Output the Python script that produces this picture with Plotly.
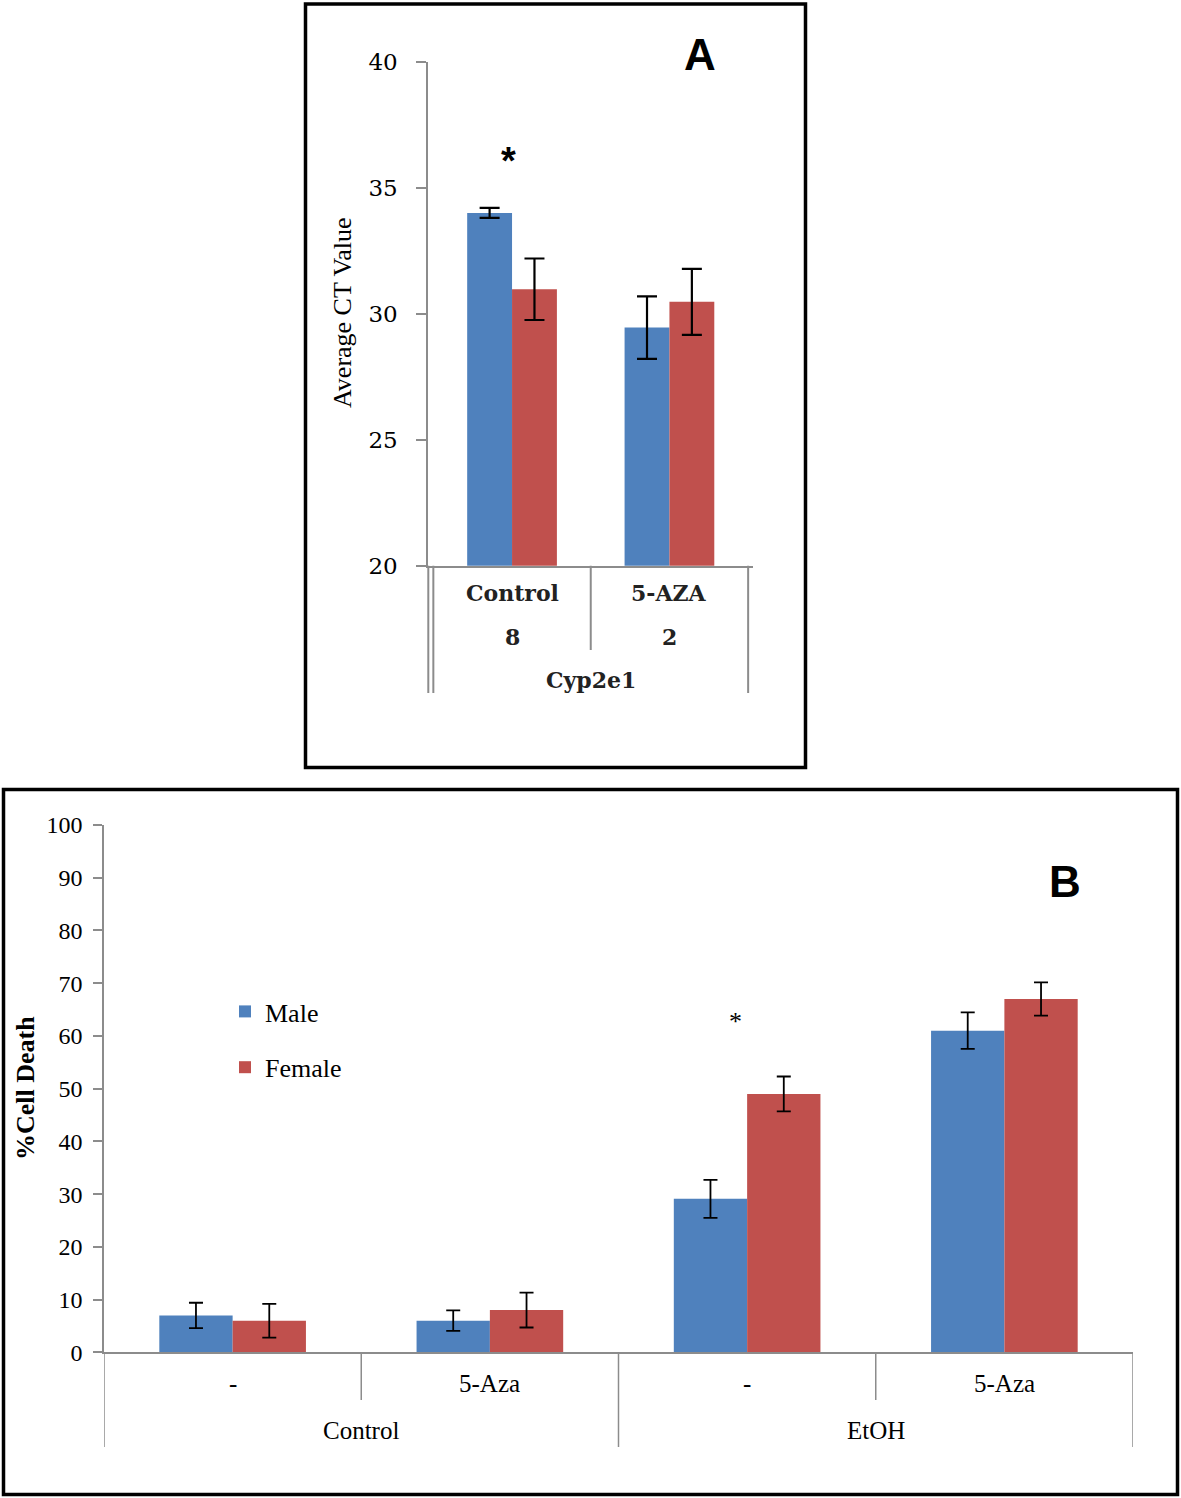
import plotly.graph_objects as go

# ---------------- data ----------------
A_categories = ["Control", "5-AZA"]
A_sublabels = ["8", "2"]
A_gene = "Cyp2e1"
A_male = [34.0, 29.45]
A_male_err = [0.2, 1.24]
A_female = [30.97, 30.47]
A_female_err = [1.22, 1.31]
A_yticks = [20, 25, 30, 35, 40]

B_treatments = ["-", "5-Aza", "-", "5-Aza"]
B_groups = ["Control", "EtOH"]
B_male = [7.0, 6.0, 29.1, 61.0]
B_male_err = [2.4, 1.95, 3.6, 3.45]
B_female = [6.0, 8.0, 49.0, 67.0]
B_female_err = [3.2, 3.3, 3.3, 3.15]
B_yticks = list(range(0, 101, 10))

series_names = ["Male", "Female"]
BLUE = "#4F81BD"
RED = "#C0504D"
GRAY = "#8C8C8C"

W, H = 1181, 1498


def fx(p):
    return p / W


def fy(p):
    return 1 - p / H


fig = go.Figure()

xa = list(range(len(A_categories)))
xb = list(range(len(B_treatments)))

# Panel A bars
fig.add_trace(go.Bar(x=xa, y=A_male, name=series_names[0], marker_color=BLUE,
                     marker_line_width=0, showlegend=False, xaxis="x", yaxis="y",
                     error_y=dict(type="data", array=A_male_err, color="black",
                                  thickness=2.2, width=10)))
fig.add_trace(go.Bar(x=xa, y=A_female, name=series_names[1], marker_color=RED,
                     marker_line_width=0, showlegend=False, xaxis="x", yaxis="y",
                     error_y=dict(type="data", array=A_female_err, color="black",
                                  thickness=2.2, width=10)))
# Panel B bars
fig.add_trace(go.Bar(x=xb, y=B_male, name=series_names[0], marker_color=BLUE,
                     marker_line_width=0, legendgroup="m", xaxis="x2", yaxis="y2",
                     error_y=dict(type="data", array=B_male_err, color="black",
                                  thickness=1.8, width=7)))
fig.add_trace(go.Bar(x=xb, y=B_female, name=series_names[1], marker_color=RED,
                     marker_line_width=0, legendgroup="f", xaxis="x2", yaxis="y2",
                     error_y=dict(type="data", array=B_female_err, color="black",
                                  thickness=1.8, width=7)))

axis_common = dict(showgrid=False, zeroline=False, fixedrange=True, automargin=False)

fig.update_layout(
    width=W, height=H,
    margin=dict(l=0, r=0, t=0, b=0, pad=0, autoexpand=False),
    paper_bgcolor="white", plot_bgcolor="white",
    barmode="group", bargap=0.43, bargroupgap=0,
    xaxis=dict(domain=[fx(428.3), fx(752.7)], range=[-0.532, 1.529], anchor="y",
               showticklabels=False, ticks="", showline=True, linecolor=GRAY,
               linewidth=2, **axis_common),
    yaxis=dict(domain=[fy(565.7), fy(61.7)], range=[20, 40], anchor="x",
               tickvals=A_yticks, ticks="outside", ticklen=10, tickwidth=2,
               tickcolor=GRAY, showline=True, linecolor=GRAY, linewidth=2,
               tickfont=dict(family="DejaVu Serif", size=23, color="black"),
               ticklabelstandoff=14, **axis_common),
    xaxis2=dict(domain=[fx(104), fx(1133)], range=[-0.5, 3.5], anchor="y2",
                showticklabels=False, ticks="", showline=True, linecolor=GRAY,
                linewidth=1.5, **axis_common),
    yaxis2=dict(domain=[fy(1352.3), fy(825)], range=[0, 100], anchor="x2",
                tickvals=B_yticks, ticks="outside", ticklen=9, tickwidth=1.5,
                tickcolor=GRAY, showline=True, linecolor=GRAY, linewidth=1.5,
                tickfont=dict(family="Liberation Serif", size=24, color="black"),
                ticklabelstandoff=6, **axis_common),
    legend=dict(x=fx(225), y=fy(988), xanchor="left", yanchor="top",
                bgcolor="rgba(0,0,0,0)", tracegroupgap=19, traceorder="grouped",
                font=dict(family="Liberation Serif", size=26, color="black")),
)

shapes = []
# panel borders
shapes.append(dict(type="rect", xref="paper", yref="paper", x0=fx(305.5), x1=fx(805.5),
                   y0=fy(4), y1=fy(767.5), line=dict(color="black", width=3.5)))
shapes.append(dict(type="rect", xref="paper", yref="paper", x0=fx(3.5), x1=fx(1177.5),
                   y0=fy(789.5), y1=fy(1494.5), line=dict(color="black", width=3.5)))

# Panel A category separators
a_long = -(693 - 565.7) / 504.0
a_short = -(650 - 565.7) / 504.0
shapes.append(dict(type="line", xref="x domain", yref="y domain", x0=0, x1=0, y0=0, y1=a_long,
                   line=dict(color=GRAY, width=2)))
for b, L in [(-0.5, a_long), (0.5, a_short), (1.5, a_long)]:
    shapes.append(dict(type="line", xref="x", yref="y domain", x0=b, x1=b, y0=0, y1=L,
                       line=dict(color=GRAY, width=2)))

# Panel B category separators
b_long = -(1447 - 1352.3) / 527.3
b_short = -(1400 - 1352.3) / 527.3
for b, L in [(-0.5, b_long), (0.5, b_short), (1.5, b_long), (2.5, b_short), (3.5, b_long)]:
    shapes.append(dict(type="line", xref="x2", yref="y2 domain", x0=b, x1=b, y0=0, y1=L,
                       line=dict(color=GRAY, width=1.5)))
fig.update_layout(shapes=shapes)

C = dict(showarrow=False, xanchor="center", yanchor="middle")
ann = []
fA = dict(family="DejaVu Serif", size=22, color="#222222", weight="bold")
for i, c in enumerate(A_categories):
    ann.append(dict(x=i, y=fy(593), xref="x", yref="paper", text=c, font=fA, **C))
    ann.append(dict(x=i, y=fy(637), xref="x", yref="paper", text=A_sublabels[i], font=fA, **C))
ann.append(dict(x=0.5, y=fy(680), xref="x", yref="paper", text=A_gene, font=fA, **C))
ann.append(dict(x=fx(342), y=fy(313), xref="paper", yref="paper", text="Average CT Value",
                textangle=-90, font=dict(family="Liberation Serif", size=26, color="black"), **C))
ann.append(dict(x=fx(700), y=fy(55), xref="paper", yref="paper", text="A",
                font=dict(family="Liberation Sans", size=44, color="black", weight="bold"), **C))
ann.append(dict(x=-0.024, y=36.05, xref="x", yref="y", text="*",
                font=dict(family="Liberation Sans", size=38, color="black", weight="bold"), **C))

fB = dict(family="Liberation Serif", size=25, color="black")
for i, t in enumerate(B_treatments):
    ann.append(dict(x=i, y=fy(1383), xref="x2", yref="paper", text=t, font=fB, **C))
for j, g in enumerate(B_groups):
    ann.append(dict(x=2 * j + 0.5, y=fy(1430), xref="x2", yref="paper", text=g, font=fB, **C))
ann.append(dict(x=fx(25), y=fy(1088), xref="paper", yref="paper", text="%Cell Death",
                textangle=-90,
                font=dict(family="Liberation Serif", size=26, color="black", weight="bold"), **C))
ann.append(dict(x=fx(1065), y=fy(882), xref="paper", yref="paper", text="B",
                font=dict(family="Liberation Sans", size=44, color="black", weight="bold"), **C))
ann.append(dict(x=1.953, y=62.76, xref="x2", yref="y2", text="*",
                font=dict(family="Liberation Serif", size=26, color="black"), **C))
fig.update_layout(annotations=ann)

css_js = (
    "var s=document.createElement('style');"
    "s.innerHTML='html,body{margin:0 !important;padding:0 !important;overflow:hidden;}';"
    "document.head.appendChild(s);"
)
fig.write_html("out.html", config={"displayModeBar": False}, post_script=css_js)
